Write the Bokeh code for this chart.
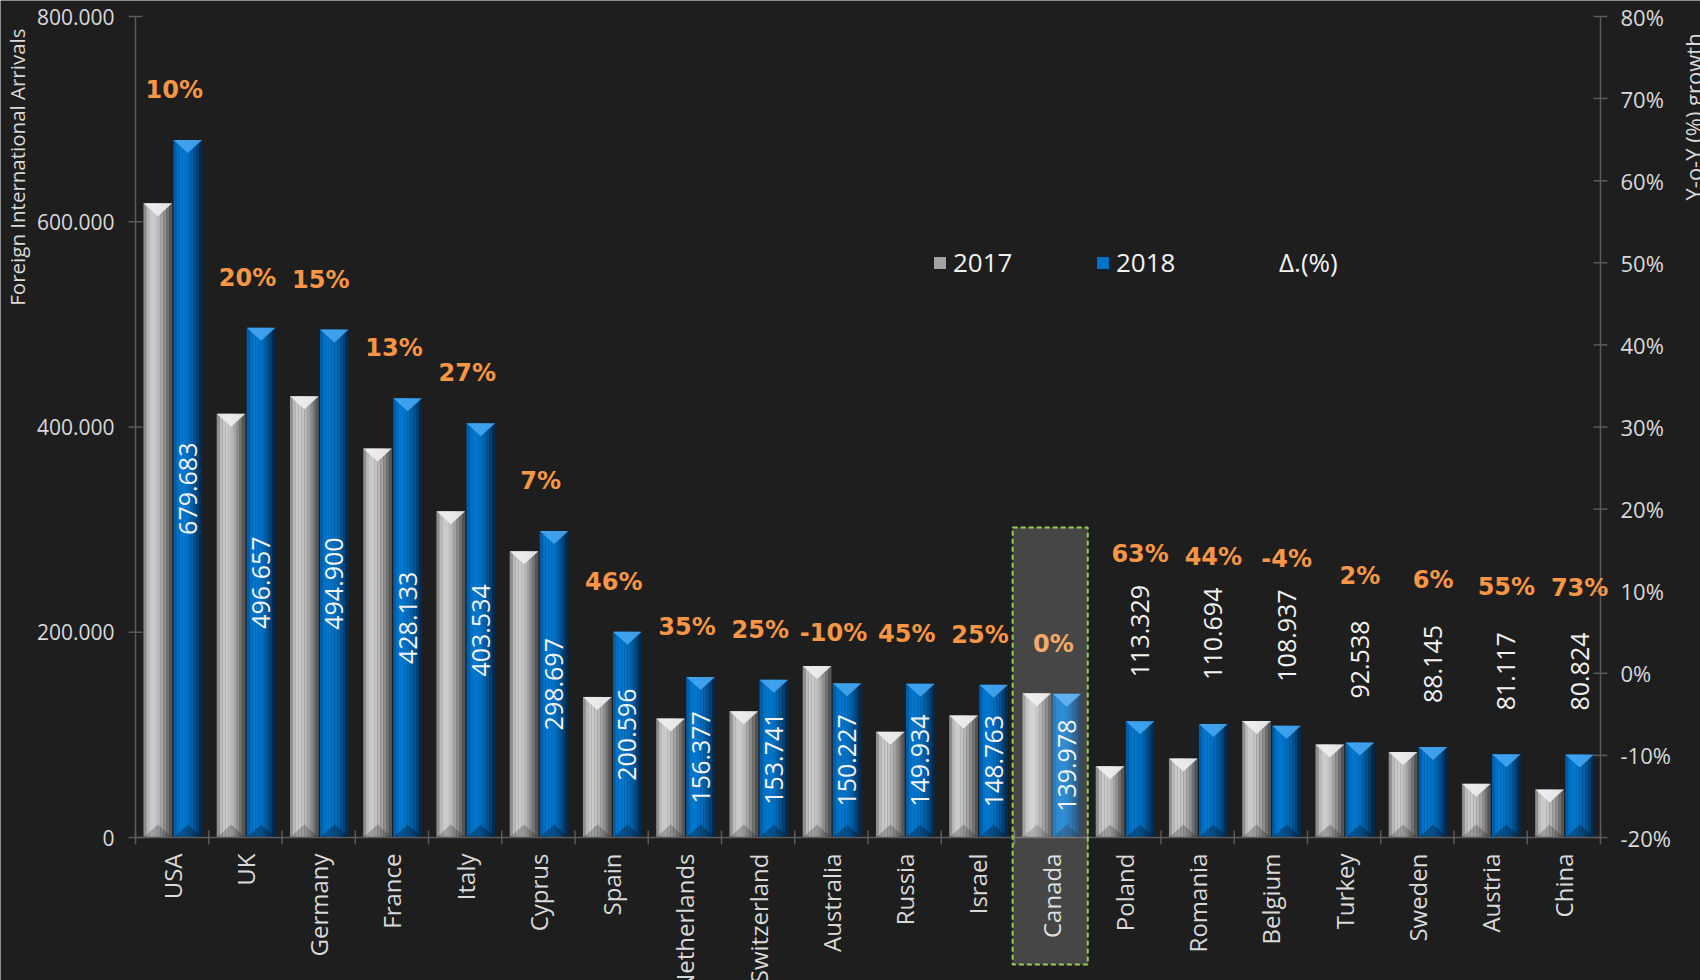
import math
import numpy as np
from bokeh.plotting import figure
from bokeh.models import (ColumnDataSource, Range1d, Legend, LegendItem, BoxAnnotation)
from bokeh.core.properties import value
from bokeh.embed import file_html
from bokeh.resources import INLINE

# ---------------- data ----------------
countries = ["USA", "UK", "Germany", "France", "Italy", "Cyprus", "Spain", "Netherlands",
             "Switzerland", "Australia", "Russia", "Israel", "Canada", "Poland", "Romania",
             "Belgium", "Turkey", "Sweden", "Austria", "China"]
arrivals_2018 = [679683, 496657, 494900, 428133, 403534, 298697, 200596, 156377, 153741,
                 150227, 149934, 148763, 139978, 113329, 110694, 108937, 92538, 88145,
                 81117, 80824]
arrivals_2017 = [618000, 413000, 430000, 379000, 318000, 279000, 137000, 116000, 123000,
                 167000, 103000, 119000, 140500, 69500, 77000, 113500, 90700, 83200,
                 52300, 46700]
growth_pct = [10, 20, 15, 13, 27, 7, 46, 35, 25, -10, 45, 25, 0, 63, 44, -4, 2, 6, 55, 73]
left_ticks = [0, 200000, 400000, 600000, 800000]
left_tick_labels = ["0", "200.000", "400.000", "600.000", "800.000"]
right_ticks = [-20, -10, 0, 10, 20, 30, 40, 50, 60, 70, 80]
right_tick_labels = ["-20%", "-10%", "0%", "10%", "20%", "30%", "40%", "50%", "60%", "70%", "80%"]
series_names = ["2017", "2018", "\u0394.(%)"]
left_title = "Foreign International Arrivals"
right_title = "Y-o-Y (%) growth"
highlight = "Canada"

# ---------------- layout / style ----------------
W, H = 1700, 980
PL, PR, PT, PB = 135, 100, 16, 143        # plot area margins (px) inside the canvas
PLOT_W = W - PL - PR
PLOT_H = H - PT - PB
BG = "#1e1e1e"
AX = "#5a5a5a"
TXT = "#d9d9d9"
WHITE = "#f2f2f2"
ORANGE = "#f79646"
GREEN = "#92d050"
FONT = "Open Sans"
n = len(countries)
Y_MIN, Y_MAX = left_ticks[0], left_ticks[-1]
P_MIN, P_MAX = right_ticks[0], right_ticks[-1]
DPP = (Y_MAX - Y_MIN) / PLOT_H          # left-axis data units per px
PPP = (P_MAX - P_MIN) / PLOT_H          # right-axis data units per px
CAT_PX = PLOT_W / n                     # px per category
XPX = 1 / CAT_PX                        # x data units per px

GRAY_OFF, BLUE_OFF, BAR_W = -0.195, 0.215, 0.39
gray_strips = ["#8e8e8e", "#b9b9b9", "#c9c9c9", "#cbcbcb", "#c4c4c4", "#b6b6b6",
               "#a3a3a3", "#8c8c8c", "#727272", "#555555"]
blue_strips = ["#005da8", "#0070c4", "#0077cf", "#0077ce", "#0072c6", "#006abb",
               "#005fa8", "#00508f", "#003f72", "#002a4f"]
TRI_H = 13
TICK = 7

p = figure(width=W, height=H,
           x_range=Range1d(-PL * XPX, n + PR * XPX),
           y_range=Range1d(Y_MIN - PB * DPP, Y_MAX + PT * DPP),
           output_backend="svg", toolbar_location=None,
           x_axis_type=None, y_axis_type=None,
           min_border_left=0, min_border_right=0, min_border_top=0, min_border_bottom=0,
           background_fill_color=BG, border_fill_color=BG, outline_line_color=None)
p.min_border = 0
p.extra_y_ranges = {"pct": Range1d(P_MIN - PB * PPP, P_MAX + PT * PPP)}

idx = np.arange(n)
v17 = np.array(arrivals_2017, dtype=float)
v18 = np.array(arrivals_2018, dtype=float)

# ---------------- bars ----------------
strip_renderers = {}


def draw_bars(key, values, off, strips, top_col, bot_alpha):
    centers = idx + 0.5 + off
    ns = len(strips)
    sw = BAR_W / ns
    rs = []
    for j, col in enumerate(strips):
        xs = centers + (j - (ns - 1) / 2) * sw
        rs.append(p.vbar(x=xs, top=values, bottom=0, width=sw * 1.08,
                         fill_color=col, line_color=None))
    strip_renderers[key] = rs
    h = TRI_H * DPP
    txs = [[c - BAR_W / 2, c + BAR_W / 2, c] for c in centers]
    tys = [[v, v, v - h] for v in values]
    p.patches(xs=txs, ys=tys, fill_color=top_col, fill_alpha=0.9, line_color=None)
    bys = [[0, 0, h] for v in values]
    p.patches(xs=txs, ys=bys, fill_color="#000000", fill_alpha=bot_alpha, line_color=None)


draw_bars("2017", v17, GRAY_OFF, gray_strips, "#f0f0f0", 0.22)
draw_bars("2018", v18, BLUE_OFF, blue_strips, "#45a6f2", 0.3)

# ---------------- axes (drawn through the data scales) ----------------
AXL = dict(line_color=AX, line_width=1.5)
# left axis
p.segment(x0=[0], y0=[Y_MIN], x1=[0], y1=[Y_MAX], **AXL)
p.segment(x0=[-TICK * XPX] * len(left_ticks), y0=left_ticks,
          x1=[TICK * XPX] * len(left_ticks), y1=left_ticks, **AXL)
p.text(x=[-(TICK + 14) * XPX] * len(left_ticks), y=left_ticks, text=left_tick_labels,
       text_align="right", text_baseline="middle", text_font=value(FONT),
       text_font_size="21px", text_color=TXT)
# right axis
p.segment(x0=[n], y0=[P_MIN], x1=[n], y1=[P_MAX], y_range_name="pct", **AXL)
p.segment(x0=[n - TICK * XPX] * len(right_ticks), y0=right_ticks,
          x1=[n + TICK * XPX] * len(right_ticks), y1=right_ticks, y_range_name="pct", **AXL)
p.text(x=[n + (TICK + 13) * XPX] * len(right_ticks), y=right_ticks, text=right_tick_labels,
       y_range_name="pct", text_align="left", text_baseline="middle",
       text_font=value(FONT), text_font_size="22px", text_color=TXT)
# category axis
p.segment(x0=[0], y0=[Y_MIN], x1=[n], y1=[Y_MIN], **AXL)
bounds = np.arange(n + 1)
p.segment(x0=bounds, y0=np.full(n + 1, Y_MIN - TICK * DPP),
          x1=bounds, y1=np.full(n + 1, Y_MIN + TICK * DPP), **AXL)

# ---------------- value labels ----------------
inside = v18 >= 120000
val_text = [f"{int(v):,}".replace(",", ".") for v in arrivals_2018]
blue_x = idx + 0.5 + BLUE_OFF

src_in = ColumnDataSource(dict(x=blue_x[inside], y=v18[inside] / 2,
                               t=[t for t, k in zip(val_text, inside) if k]))
p.text(x="x", y="y", text="t", source=src_in, angle=math.pi / 2, text_align="center",
       text_baseline="middle", text_font=value(FONT), text_font_size="25px",
       text_color=WHITE)

src_out = ColumnDataSource(dict(x=blue_x[~inside], y=v18[~inside] + 44 * DPP,
                                t=[t for t, k in zip(val_text, inside) if not k]))
p.text(x="x", y="y", text="t", source=src_out, angle=math.pi / 2, text_align="left",
       text_baseline="middle", text_font=value(FONT), text_font_size="25px",
       text_color=WHITE)

# ---------------- growth labels ----------------
pct_x = idx + 0.5 + np.where(inside, 0.03, BLUE_OFF)
pct_y = v18 + np.where(inside, 50, 167) * DPP
src_pct = ColumnDataSource(dict(x=pct_x, y=pct_y, t=[f"{g}%" for g in growth_pct]))
p.text(x="x", y="y", text="t", source=src_pct, text_align="center",
       text_baseline="middle", text_font=value("DejaVu Sans"),
       text_font_style="bold", text_font_size="24px", text_color=ORANGE)

# ---------------- highlight ----------------
k = countries.index(highlight)
box = BoxAnnotation(left=k - 0.025, right=k + 1.0, top=Y_MIN + 310 * DPP,
                    bottom=Y_MIN - 127 * DPP,
                    fill_color="white", fill_alpha=0.18, line_color=GREEN, line_alpha=1.0,
                    line_dash="5 3", line_width=2)
p.add_layout(box)

# ---------------- category labels ----------------
cat_src = ColumnDataSource(dict(x=idx + 0.5, y=np.full(n, Y_MIN - 16 * DPP), t=countries))
p.text(x="x", y="y", text="t", source=cat_src, angle=math.pi / 2,
       text_align="right", text_baseline="middle", text_font=value(FONT),
       text_font_size="24px", text_color=TXT)

# ---------------- axis titles ----------------
p.text(x=[-119 * XPX], y=[Y_MAX - 12 * DPP], text=[left_title], angle=math.pi / 2,
       text_align="right", text_baseline="middle", text_font=value(FONT),
       text_font_size="20.5px", text_color=TXT)
p.text(x=[n + 92 * XPX], y=[Y_MAX - 184 * DPP], text=[right_title], angle=math.pi / 2,
       text_align="left", text_baseline="middle", text_font=value(FONT),
       text_font_size="22px", text_color=TXT)

# ---------------- legend ----------------
rdl = p.line(x=[], y=[], line_alpha=0)
legend = Legend(items=[LegendItem(label=series_names[0], renderers=[strip_renderers["2017"][6]]),
                       LegendItem(label=series_names[1], renderers=[strip_renderers["2018"][4]]),
                       LegendItem(label=series_names[2], renderers=[rdl])],
                location=(932, 700), orientation="horizontal",
                glyph_width=15, glyph_height=15, label_standoff=6, label_width=130,
                spacing=12, padding=0, margin=0, border_line_color=None,
                background_fill_alpha=0, label_text_font=FONT,
                label_text_font_size="26px", label_text_color=WHITE)
p.add_layout(legend)

open("out.html", "w").write(file_html(p, INLINE))
